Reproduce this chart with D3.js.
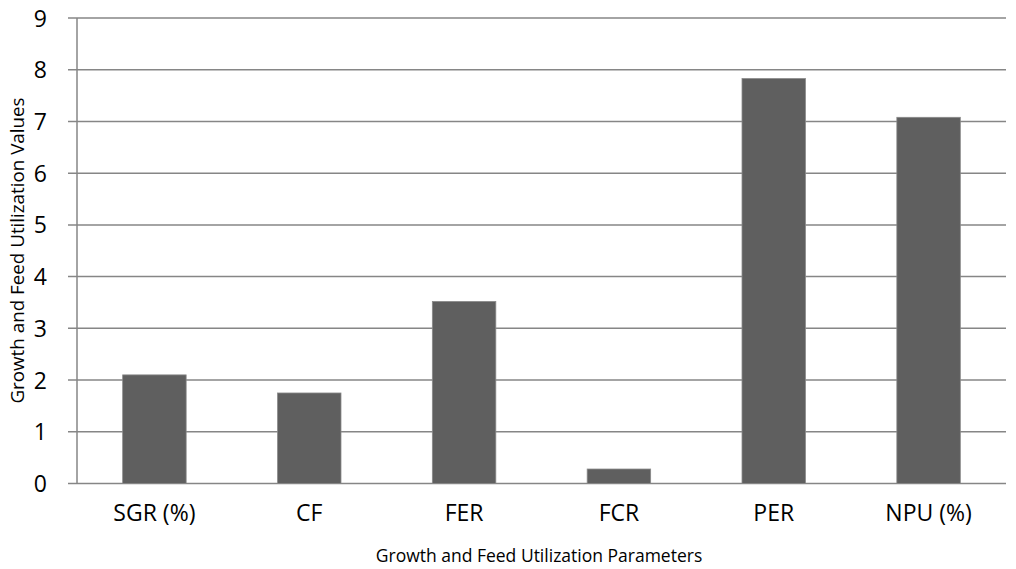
<!DOCTYPE html>
<html><head><meta charset="utf-8">
<script src="https://cdn.jsdelivr.net/npm/d3@7"></script>
<style>body{margin:0;background:#fff}svg{display:block}text{font-family:"Open Sans",sans-serif;fill:#000}</style>
</head><body><svg id="c" width="1016" height="569"></svg>
<script>
const categories = ["SGR (%)", "CF", "FER", "FCR", "PER", "NPU (%)"];
const values = [2.10, 1.75, 3.52, 0.28, 7.83, 7.08];
const yTicks = [0,1,2,3,4,5,6,7,8,9];
const yTitle = "Growth and Feed Utilization Values";
const xTitle = "Growth and Feed Utilization Parameters";

const svg = d3.select("#c");
const L = 77, R = 1006, T = 18, B = 483.5;
const x = d3.scaleBand().domain(categories).range([L, R]).paddingInner(0.59).paddingOuter(0.295);
const y = d3.scaleLinear().domain([0, 9]).range([B, T]);

svg.append("g").selectAll("line").data(yTicks).join("line")
  .attr("x1", L - 9).attr("x2", R).attr("y1", d => y(d)).attr("y2", d => y(d))
  .attr("stroke", "#868686").attr("stroke-width", 1.5);

svg.append("g").selectAll("rect").data(values).join("rect")
  .attr("x", (d, i) => x(categories[i])).attr("width", x.bandwidth())
  .attr("y", d => y(d)).attr("height", d => B - y(d))
  .attr("fill", "#5f5f5f").attr("stroke", "#8a8a8a").attr("stroke-width", 0.8);

svg.append("line").attr("x1", L).attr("x2", L).attr("y1", T).attr("y2", B)
  .attr("stroke", "#868686").attr("stroke-width", 1.5);

const yAxis = d3.axisLeft(y).tickValues(yTicks).tickSize(0).tickPadding(0).tickFormat(d3.format("d"));
const ya = svg.append("g").attr("transform", `translate(${L - 30},0)`).call(yAxis);
ya.select(".domain").remove();
ya.selectAll("text").attr("font-size", 23).attr("fill", "#000").attr("text-anchor", "end").attr("dx", 0).attr("dy", "0.35em");

const xAxis = d3.axisBottom(x).tickSize(0).tickPadding(0);
const xa = svg.append("g").attr("transform", `translate(0,${B + 21})`).call(xAxis);
xa.select(".domain").remove();
xa.selectAll("text").attr("font-size", 23).attr("fill", "#000");

svg.append("text").attr("x", 539).attr("y", 562).attr("text-anchor", "middle")
  .attr("font-size", 17.5).text(xTitle);
svg.append("text").attr("transform", `translate(23.5,250.5) rotate(-90)`).attr("text-anchor", "middle")
  .attr("font-size", 18.8).text(yTitle);
</script></body></html>
